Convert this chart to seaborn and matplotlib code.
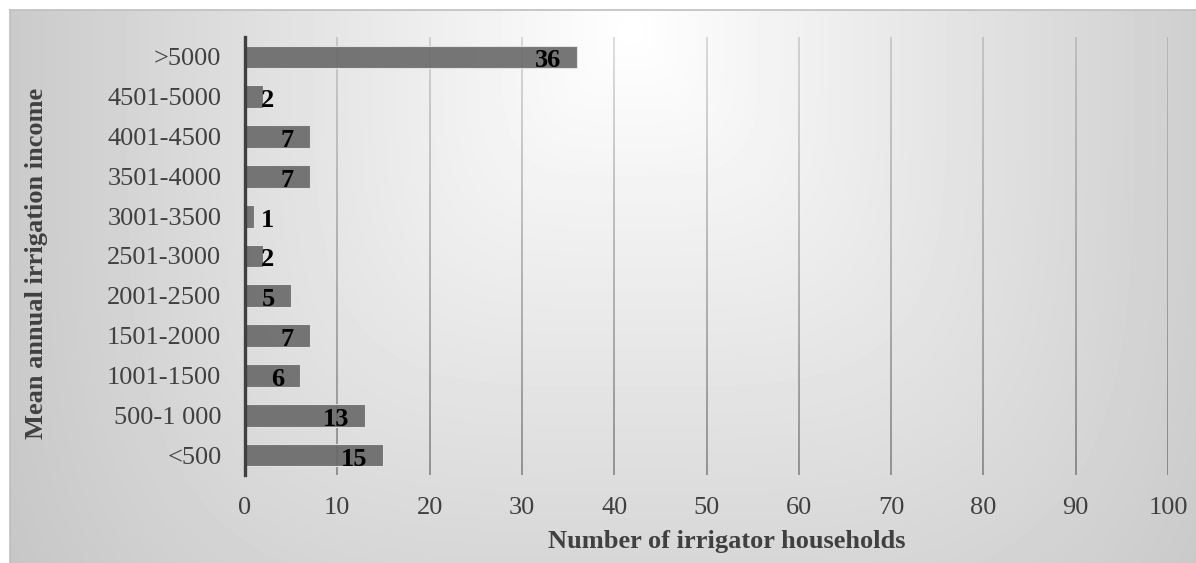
import numpy as np
import matplotlib
matplotlib.use("Agg")
import matplotlib.pyplot as plt
from matplotlib.collections import LineCollection
import seaborn as sns

# Income classes (top to bottom) and household counts
income_classes = [">5000", "4501-5000", "4001-4500", "3501-4000", "3001-3500",
                  "2501-3000", "2001-2500", "1501-2000", "1001-1500",
                  "500-1 000", "<500"]
households = [36, 2, 7, 7, 1, 2, 5, 7, 6, 13, 15]
x_ticks = [0, 10, 20, 30, 40, 50, 60, 70, 80, 90, 100]

sns.set_style("white")
plt.rcParams["font.family"] = ["Liberation Serif", "DejaVu Serif"]

W, H, DPI = 1196, 563, 100
fig = plt.figure(figsize=(W / DPI, H / DPI), dpi=DPI, facecolor="white")

# Chart-area panel with a soft radial gradient fill
bx0, by0 = 10, 10
pw, ph = W - bx0, H - by0
bg_ax = fig.add_axes([bx0 / W, 0, pw / W, ph / H], zorder=0)
yy, xx = np.mgrid[0:ph, 0:pw]
cx, cy = 630 - bx0, 30 - by0
dx = np.abs(xx - cx) / 800.0
dy = np.abs(yy - cy) / 900.0
d = (dx ** 4 + dy ** 4) ** 0.25
d = np.clip(d, 0, 1.2)
val = (255 - 68 * d) / 255.0
bg_ax.imshow(val, cmap="gray", vmin=0, vmax=1, aspect="auto",
             interpolation="bilinear", extent=(0, 1, 0, 1))
bg_ax.set_xticks([])
bg_ax.set_yticks([])
for side in ["bottom", "right"]:
    bg_ax.spines[side].set_visible(False)
for side in ["top", "left"]:
    bg_ax.spines[side].set_color("#bfbfbf")
    bg_ax.spines[side].set_linewidth(1.2)

# Plot area
L, R, T, B = 245, 1168, 37, 475
ax = fig.add_axes([L / W, 1 - B / H, (R - L) / W, (B - T) / H], zorder=1)
ax.patch.set_alpha(0)

sns.barplot(x=households, y=income_classes, orient="h", color="#686868",
            width=0.57, saturation=1, edgecolor="#e8e8e8", linewidth=0.8,
            alpha=0.9, ax=ax, zorder=3)

ax.set_xlim(0, 100)
ax.set_xticks(x_ticks)

# Vertical gridlines that fade from light at the top to darker at the bottom
nseg = 60
segs, cols = [], []
for xt in x_ticks[1:]:
    ys = np.linspace(0, 1, nseg + 1)
    for k in range(nseg):
        segs.append([(xt, ys[k]), (xt, ys[k + 1])])
        frac = (ys[k] + ys[k + 1]) / 2
        a = 0.37 - (0.37 - 0.14) * frac
        cols.append((0, 0, 0, a))
lc = LineCollection(segs, colors=cols, linewidths=1.3,
                    transform=ax.get_xaxis_transform(), zorder=1)
ax.add_collection(lc)

for side in ["top", "right", "bottom"]:
    ax.spines[side].set_visible(False)
ax.spines["left"].set_color("#404040")
ax.spines["left"].set_linewidth(2.4)
ax.spines["left"].set_zorder(5)

ax.tick_params(axis="y", length=0, pad=17, labelsize=19, labelcolor="#404040")
ax.tick_params(axis="x", length=0, pad=16, labelsize=19, labelcolor="#404040")

ax.set_xlabel("Number of irrigator households", fontsize=19,
              fontweight="bold", color="#404040")
ax.xaxis.set_label_coords(0.522, -0.151)
ax.xaxis.label.set_va("center")
ax.set_ylabel("Mean annual irrigation income", fontsize=19,
              fontweight="bold", color="#404040")
ax.yaxis.set_label_coords(-0.226, 0.482)
ax.yaxis.label.set_va("center")

# Value labels at the inside end of each bar
px_per_unit = (R - L) / 100.0
pt = 72.0 / DPI
for i, v in enumerate(households):
    txt = str(v)
    width_px = 13 * len(txt)
    bar_px = v * px_per_unit
    if bar_px - 16 - width_px >= 16:
        ax.annotate(txt, xy=(v, i), xytext=(-16 * pt, -10.5 * pt),
                    textcoords="offset points", ha="right", va="baseline",
                    fontsize=19, fontweight="bold", color="black", zorder=6)
    else:
        ax.annotate(txt, xy=(0, i), xytext=(16 * pt, -10.5 * pt),
                    textcoords="offset points", ha="left", va="baseline",
                    fontsize=19, fontweight="bold", color="black", zorder=6)

fig.savefig("out.png", dpi=DPI, facecolor="white")
